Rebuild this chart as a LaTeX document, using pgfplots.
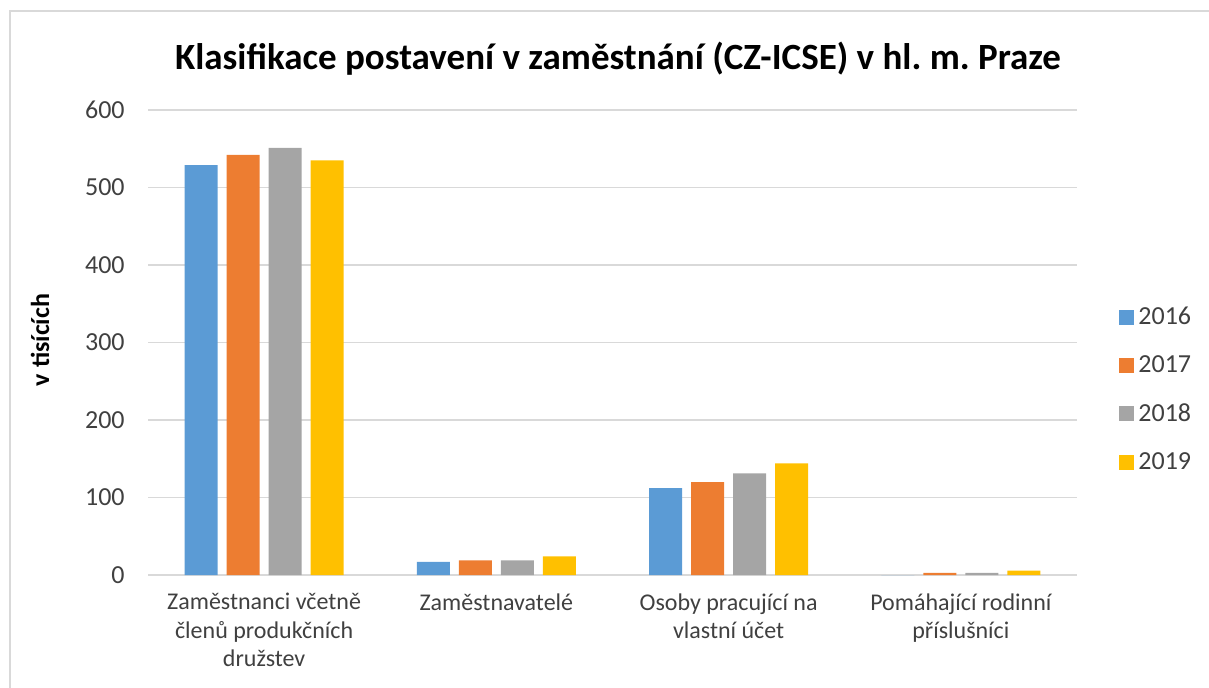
\documentclass[border=0pt]{standalone}
\usepackage{fontspec}
\setmainfont{Carlito}
\usepackage{pgfplots}
\pgfplotsset{compat=1.18}
\definecolor{cA}{HTML}{5B9BD5}
\definecolor{cB}{HTML}{ED7D31}
\definecolor{cC}{HTML}{A5A5A5}
\definecolor{cD}{HTML}{FFC000}
\definecolor{gridc}{HTML}{D9D9D9}
\definecolor{framec}{HTML}{D9D9D9}
\definecolor{tickc}{HTML}{404040}
\begin{document}
\begin{tikzpicture}
\path[use as bounding box] (-74pt,-56pt) rectangle (530.5pt,287.5pt);
\draw[color=framec, line width=1pt] (-69pt,-70pt) -- (-69pt,282pt) -- (545pt,282pt);
\begin{axis}[
  at={(0pt,0pt)}, anchor=south west,
  scale only axis, width=464.5pt, height=232.5pt,
  xmin=-0.5, xmax=3.5, ymin=0, ymax=600,
  ytick={0,100,...,600},
  xtick={0,1,2,3},
  xticklabels={{Zaměstnanci včetně\\členů produkčních\\družstev},{Zaměstnavatelé},{Osoby pracující na\\vlastní účet},{Pomáhající rodinní\\příslušníci}},
  ybar=4.5pt, bar width=16.5pt,
  major tick length=0pt,
  ymajorgrids, grid style={draw=gridc, line width=0.75pt},
  axis line style={draw=none},
  /pgf/number format/assume math mode=true,
  tick label style={font=\fontsize{13}{14.5}\selectfont, text=tickc},
  yticklabel style={anchor=east, inner sep=0pt, xshift=-11.5pt},
  xticklabel style={align=center, anchor=north, inner sep=0pt, yshift=-9pt, font=\fontsize{12}{14.25}\selectfont},
  legend style={draw=none, fill=none, at={(1,0.399)}, anchor=west, xshift=21pt,
    font=\fontsize{13}{14.5}\selectfont, text=tickc, row sep=10pt, inner sep=0pt},
  legend cell align=left,
  legend image code/.code={\fill[#1] (0pt,-3.75pt) rectangle (7.5pt,3.75pt);},
]
\addplot[fill=cA, draw=none] coordinates {(0,529) (1,17) (2,112) (3,0)};
\addplot[fill=cB, draw=none] coordinates {(0,542) (1,19) (2,120) (3,2.6)};
\addplot[fill=cC, draw=none] coordinates {(0,551) (1,19) (2,131) (3,2.6)};
\addplot[fill=cD, draw=none] coordinates {(0,535) (1,24) (2,144) (3,5.6)};
\legend{2016,2017,2018,2019}
\end{axis}
\node[font=\bfseries\fontsize{18.5}{22}\selectfont] at (235pt,258pt) {Klasifikace postavení v zaměstnání (CZ-ICSE) v hl.\ m.\ Praze};
\node[rotate=90, font=\bfseries\fontsize{13}{15}\selectfont] at (-54pt,117.5pt) {v tisících};
\end{tikzpicture}
\end{document}
